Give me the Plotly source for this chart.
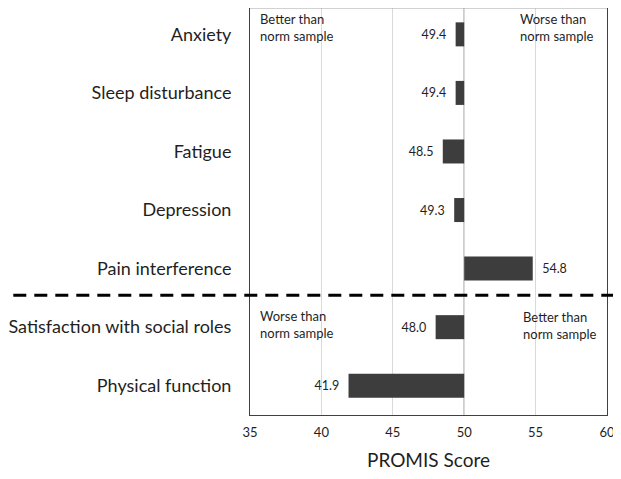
import plotly.graph_objects as go

categories = ["Anxiety", "Sleep disturbance", "Fatigue", "Depression",
              "Pain interference", "Satisfaction with social roles", "Physical function"]
scores = [49.4, 49.4, 48.5, 49.3, 54.8, 48.0, 41.9]
norm = 50
tick_vals = [35, 40, 45, 50, 55, 60]

font_family = "Lato, 'Open Sans', sans-serif"
text_color = "#1f1f1f"

labels = []
for s in scores:
    if s < norm:
        labels.append("%.1f&nbsp;&nbsp;" % s)
    else:
        labels.append("&nbsp;&nbsp;%.1f" % s)

fig = go.Figure()
fig.add_trace(go.Bar(
    y=categories,
    x=[s - norm for s in scores],
    base=norm,
    orientation="h",
    marker=dict(color="#3d3d3d", line=dict(width=0)),
    width=0.41,
    text=labels,
    textposition="outside",
    textfont=dict(size=12.5, color=text_color, family=font_family),
    cliponaxis=False,
    hoverinfo="skip",
))

fig.update_layout(
    width=611, height=463,
    margin=dict(l=240, r=12, t=0, b=55),
    paper_bgcolor="white", plot_bgcolor="white",
    showlegend=False,
    font=dict(family=font_family, color=text_color),
    xaxis=dict(
        range=[35, 60], tickvals=tick_vals, ticks="",
        showgrid=True, gridcolor="#d9d9d9", gridwidth=1,
        showline=True, linecolor="#404040", linewidth=1, mirror=False,
        tickfont=dict(size=13, color=text_color),
        ticklabelstandoff=5,
        ticklabeloverflow="allow",
        title=dict(text="PROMIS Score", font=dict(size=19, color=text_color), standoff=18),
        zeroline=False,
    ),
    yaxis=dict(
        range=[6.5, -0.45], autorange=False, ticks="", showgrid=False,
        showline=True, linecolor="#404040", linewidth=1, mirror=True,
        tickfont=dict(size=18, color=text_color),
        ticklabelstandoff=14,
    ),
)

# top border (lighter)
fig.add_shape(type="line", xref="paper", yref="paper", x0=0, x1=1, y0=1, y1=1,
              line=dict(color="#a6a6a6", width=1))
# norm line at 50
fig.add_shape(type="line", xref="x", yref="paper", x0=norm, x1=norm, y0=0, y1=1,
              line=dict(color="#a6a6a6", width=1.5), layer="below")
# dashed separator
fig.add_shape(type="line", xref="paper", yref="paper", x0=-0.663, x1=1.022, y0=0.294, y1=0.294,
              line=dict(color="black", width=3, dash="13px,8px"))

ann_font = dict(size=13, color=text_color, family=font_family)
for txt, xx, yy in [
    ("Better than<br>norm sample", 35.56, 0.997),
    ("Worse than<br>norm sample", 53.8, 0.997),
    ("Worse than<br>norm sample", 35.56, 0.268),
    ("Better than<br>norm sample", 54.01, 0.265),
]:
    fig.add_annotation(x=xx, y=yy, xref="x", yref="paper", text=txt, showarrow=False,
                       xanchor="left", yanchor="top", align="left", font=ann_font)

fig.write_html("out.html")
